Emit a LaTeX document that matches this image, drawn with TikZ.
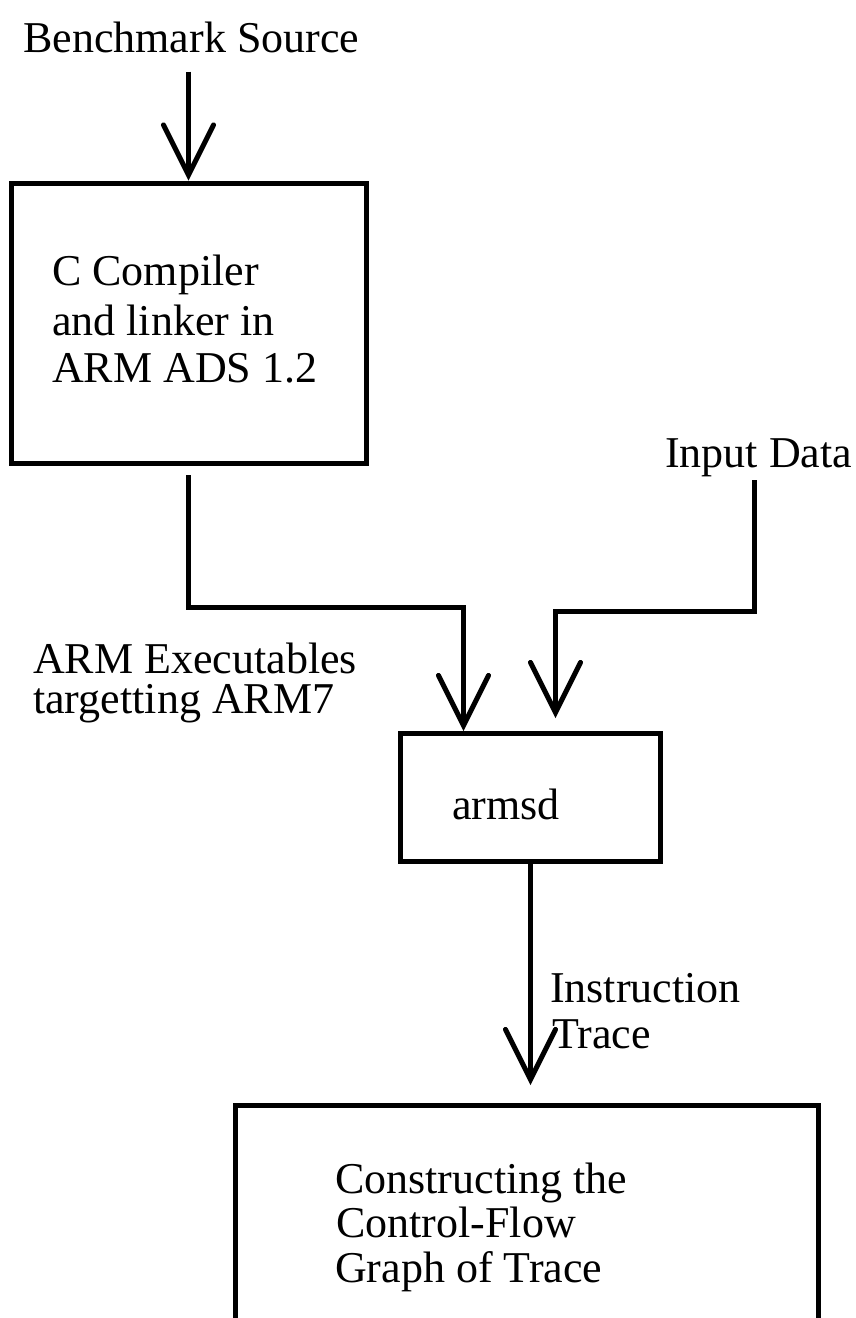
\documentclass[tikz,border=0pt]{standalone}
\usepackage{fontspec}
\setmainfont{Liberation Serif}
\usetikzlibrary{arrows.meta}

\tikzset{
  stagebox/.style={draw=black, line width=5pt, fill=none, inner sep=0pt},
  ln/.style={anchor=base west, inner sep=0pt, font=\fontsize{44}{48}\selectfont},
  flow/.style={draw=black, line width=5pt,
    -{Straight Barb[length=50pt, width=50pt, line cap=round]}},
}

\begin{document}
\begin{tikzpicture}[x=1pt, y=-1pt]
  \useasboundingbox (0,0) rectangle (856,1318);
  \clip (0,0) rectangle (856,1318);

  % processing stages
  \node[stagebox, minimum width=355pt, minimum height=280pt] (b1) at (188.5,323) {};
  \node[stagebox, minimum width=260pt, minimum height=127.5pt] (b2) at (530.5,797.25) {};
  \node[stagebox, minimum width=583pt, minimum height=216pt] (b3) at (526.5,1213) {};

  % texts
  \node[ln] (src) at (23,52) {Benchmark Source};
  \node[ln] (c1a) at (52,285) {C Compiler};
  \node[ln] (c1b) at (52,335) {and linker in};
  \node[ln] (c1c) at (52,382) {ARM ADS 1.2};
  \node[ln] (inp) at (665,467) {Input Data};
  \node[ln] (exa) at (33,673) {ARM Executables};
  \node[ln] (exb) at (33,713) {targetting ARM7};
  \node[ln] (sim) at (452,819) {armsd};
  \node[ln] (tra) at (550,1002) {Instruction};
  \node[ln] (trb) at (552,1048) {Trace};
  \node[ln] (g1) at (335,1193) {Constructing the};
  \node[ln] (g2) at (336,1237) {Control-Flow};
  \node[ln] (g3) at (335,1282) {Graph of Trace};

  % connectors
  \draw[flow, shorten <=19pt] (src.south -| b1.north) -- (b1.north);
  \draw[flow, shorten <=9.5pt] (b1.south) -- ++(0,142) -| ([xshift=-67pt]b2.north);
  \draw[flow, shorten <=3.5pt, shorten >=13pt]
    ([xshift=-4pt]inp.south) -- ++(0,134.5) -| ([xshift=25pt]b2.north);
  \draw[flow, shorten >=17.5pt] (b2.south) -- (b2.south |- b3.north);
\end{tikzpicture}
\end{document}
